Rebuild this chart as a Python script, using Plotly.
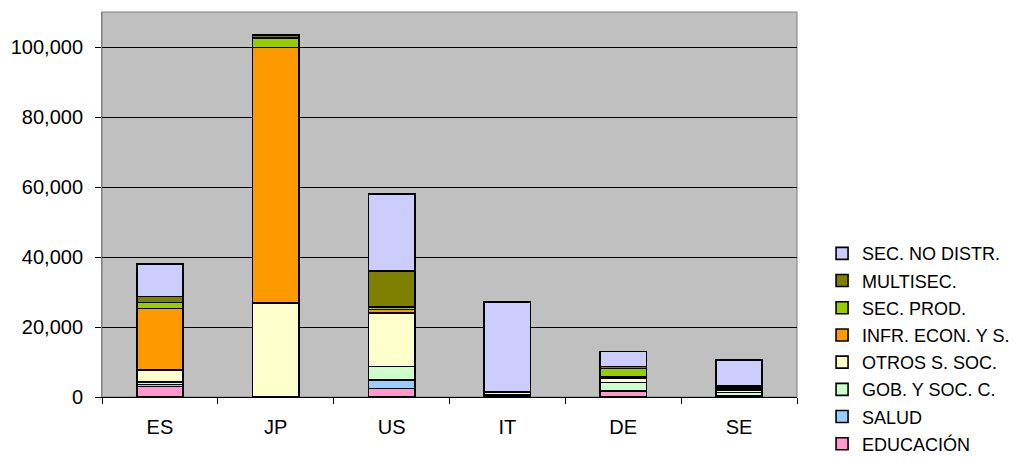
import plotly.graph_objects as go

countries = ["ES", "JP", "US", "IT", "DE", "SE"]

educacion = [3000, 0, 2470, 200, 1600, 200]
salud = [600, 0, 2460, 100, 300, 100]
gob_soc = [700, 0, 3820, 300, 2300, 1000]
otros_soc = [3500, 26800, 15300, 900, 1300, 700]
infr_econ = [17500, 73100, 1000, 100, 300, 400]
sec_prod = [1700, 2700, 600, 0, 2300, 300]
multisec = [1700, 900, 10350, 0, 600, 500]
sec_no_distr = [9300, 0, 22000, 25500, 4300, 7400]

series_names = ["EDUCACIÓN", "SALUD", "GOB. Y SOC. C.", "OTROS S. SOC.",
                "INFR. ECON. Y S.", "SEC. PROD.", "MULTISEC.", "SEC. NO DISTR."]
series_values = [educacion, salud, gob_soc, otros_soc, infr_econ, sec_prod, multisec, sec_no_distr]
colors = ["#FF99CC", "#99CCFF", "#CCFFCC", "#FFFFCC", "#FF9900", "#99CC00", "#808000", "#CCCCFF"]

y_ticks = [0, 20000, 40000, 60000, 80000, 100000]

fig = go.Figure()
for i, (name, vals, col) in enumerate(zip(series_names, series_values, colors)):
    fig.add_trace(go.Bar(
        x=countries, y=vals, name=name, legendgroup=name,
        legendrank=1000 - i,
        marker=dict(color=col, line=dict(color="black", width=1.6)),
        width=0.4,
    ))

font_family = "Arial, 'Liberation Sans', sans-serif"
fig.update_layout(
    barmode="stack",
    width=1010, height=455,
    margin=dict(l=94, r=221, t=4, b=66),
    paper_bgcolor="white",
    plot_bgcolor="#C0C0C0",
    font=dict(family=font_family, size=20, color="black"),
    showlegend=True,
    legend=dict(
        traceorder="grouped",
        tracegroupgap=0.8,
        font=dict(family=font_family, size=18, color="black"),
        xref="container", yref="container",
        x=0.806, xanchor="left",
        y=0.5008, yanchor="top",
        itemwidth=30,
        bgcolor="rgba(0,0,0,0)",
    ),
)
fig.update_xaxes(
    showline=True, linecolor="black", linewidth=1,
    ticks="outside", tickson="boundaries", ticklen=6, tickcolor="black",
    showgrid=False, ticklabelstandoff=12,
)
fig.update_yaxes(
    range=[0, 110000], tickvals=y_ticks, tickformat=",",
    showgrid=True, gridcolor="black", gridwidth=1,
    showline=True, linecolor="#808080", linewidth=1,
    ticks="outside", ticklen=6, tickcolor="black",
    zeroline=False, ticklabelstandoff=8,
)
fig.add_shape(type="rect", xref="paper", yref="paper", x0=0, x1=1, y0=0, y1=1,
              line=dict(color="#808080", width=1), layer="below")
fig.write_html("out.html")
